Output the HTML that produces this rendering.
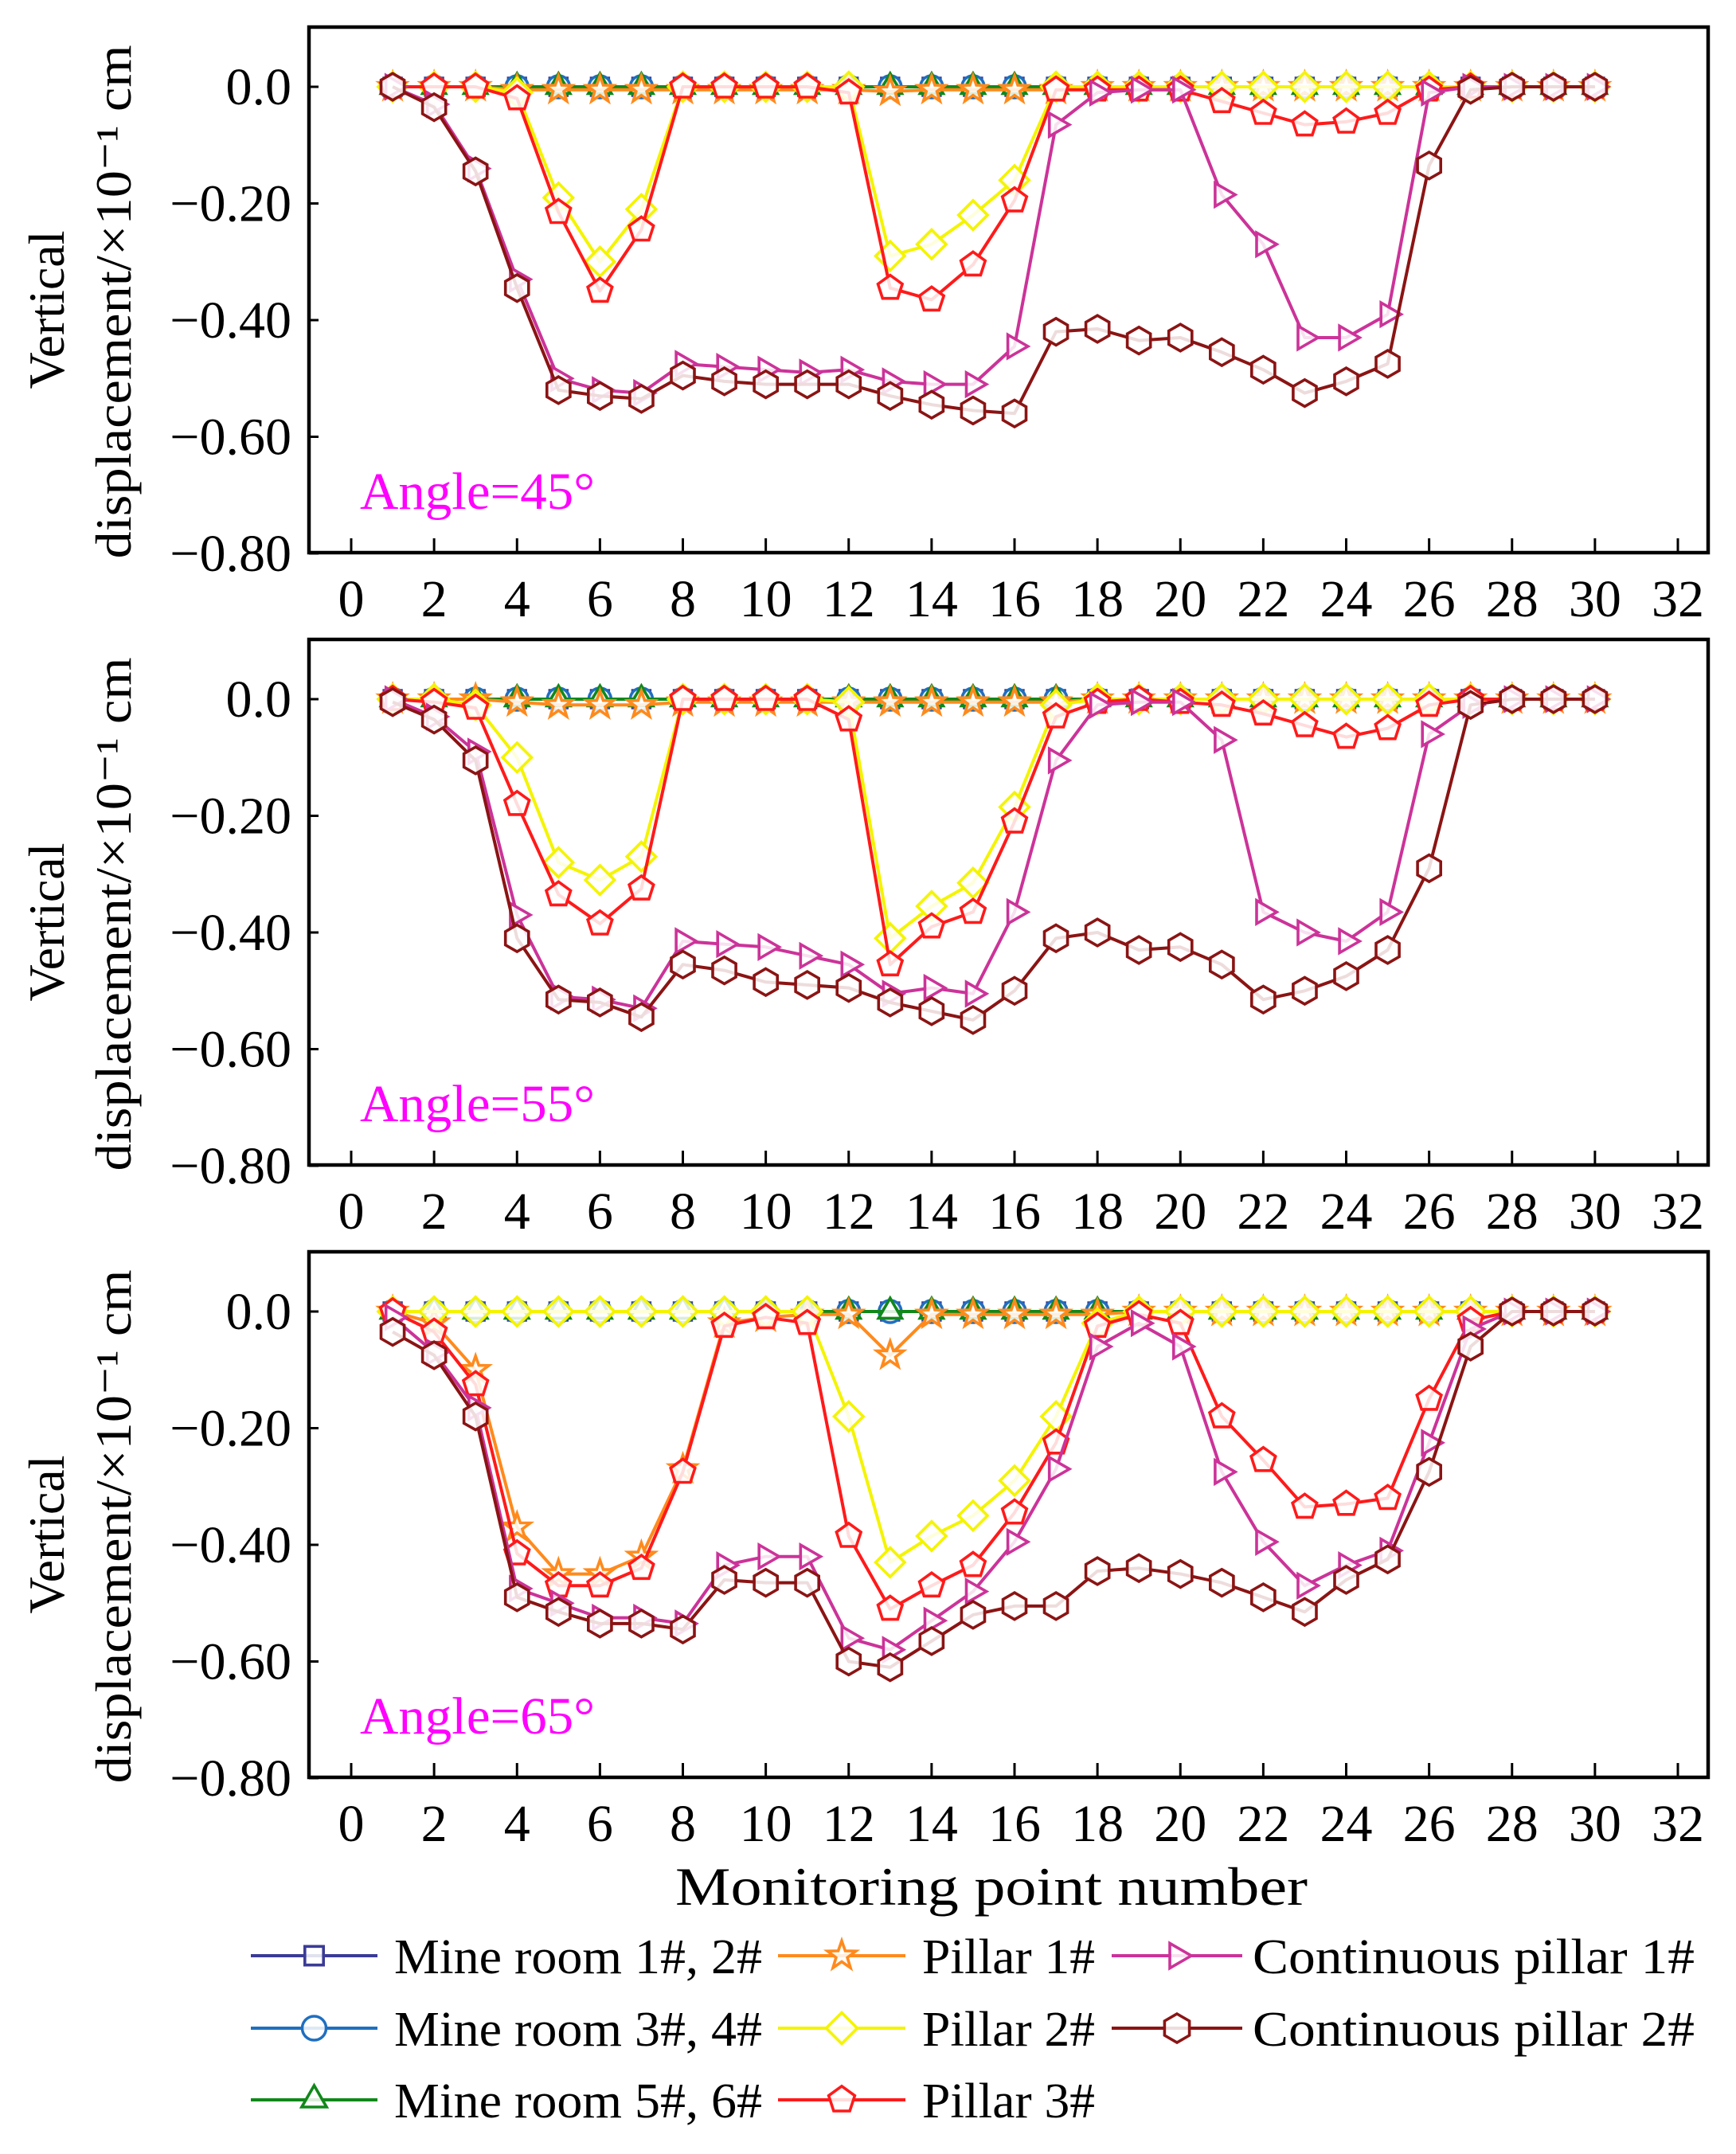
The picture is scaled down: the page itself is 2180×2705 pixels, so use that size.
<!DOCTYPE html>
<html><head><meta charset="utf-8"><style>
html,body{margin:0;padding:0;background:#fff;}
svg{display:block;font-family:"Liberation Serif",serif;}
</style></head><body>
<svg id="chart" width="2180" height="2705" viewBox="0 0 2180 2705" xmlns="http://www.w3.org/2000/svg"></svg>
<script>
const xTicks=[0,2,4,6,8,10,12,14,16,18,20,22,24,26,28,30,32];
const yTicks=[0,-0.2,-0.4,-0.6,-0.8];
const yTickLabels=["0.0","\u22120.20","\u22120.40","\u22120.60","\u22120.80"];
const points=[1,2,3,4,5,6,7,8,9,10,11,12,13,14,15,16,17,18,19,20,21,22,23,24,25,26,27,28,29,30];
const angles=["Angle=45\u00b0","Angle=55\u00b0","Angle=65\u00b0"];
const zeros=[0,0,0,0,0,0,0,0,0,0,0,0,0,0,0,0,0,0,0,0,0,0,0,0,0,0,0,0,0,0];
// Panel 1 (45°)
const p1Pillar1=[0,0,0,-0.005,-0.005,-0.005,-0.005,-0.005,-0.005,-0.005,-0.005,-0.005,-0.008,-0.005,-0.005,-0.005,-0.005,0,0,0,0,0,0,0,0,0,0,0,0,0];
const p1Pillar2=[0,0,0,-0.01,-0.19,-0.30,-0.21,0,0,0,0,0,-0.29,-0.27,-0.22,-0.16,0,0,0,0,0,0,0,0,0,0,0,0,0,0];
const p1Pillar3=[0,0,0,-0.02,-0.215,-0.35,-0.245,0,0,0,0,-0.01,-0.345,-0.365,-0.305,-0.195,-0.005,-0.005,-0.005,-0.005,-0.025,-0.045,-0.065,-0.06,-0.045,-0.005,0,0,0,0];
const p1Cont1=[0,-0.03,-0.14,-0.33,-0.50,-0.52,-0.525,-0.475,-0.48,-0.485,-0.49,-0.485,-0.505,-0.51,-0.51,-0.445,-0.065,-0.01,-0.005,-0.005,-0.185,-0.27,-0.43,-0.43,-0.39,-0.01,0,0,0,0];
const p1Cont2=[0,-0.035,-0.145,-0.345,-0.52,-0.53,-0.535,-0.495,-0.505,-0.51,-0.51,-0.51,-0.53,-0.545,-0.555,-0.56,-0.42,-0.415,-0.435,-0.43,-0.455,-0.485,-0.525,-0.505,-0.475,-0.135,-0.005,0,0,0];
// Panel 2 (55°)
const p2Pillar1=[0,0,0,-0.005,-0.01,-0.01,-0.01,-0.005,-0.005,-0.005,-0.005,-0.005,-0.005,-0.005,-0.005,-0.005,-0.005,0,0,0,0,0,0,0,0,0,0,0,0,0];
const p2Pillar2=[0,0,-0.01,-0.10,-0.28,-0.31,-0.27,0,0,0,0,-0.005,-0.41,-0.355,-0.315,-0.185,-0.01,0,0,0,0,0,0,0,0,0,0,0,0,0];
const p2Pillar3=[0,-0.005,-0.015,-0.18,-0.335,-0.385,-0.325,0,0,0,0,-0.035,-0.455,-0.39,-0.365,-0.21,-0.03,-0.005,0,-0.005,-0.01,-0.025,-0.045,-0.065,-0.05,-0.01,0,0,0,0];
const p2Cont1=[0,-0.03,-0.09,-0.37,-0.51,-0.515,-0.53,-0.415,-0.42,-0.425,-0.44,-0.455,-0.505,-0.495,-0.505,-0.365,-0.105,-0.01,-0.005,-0.005,-0.07,-0.365,-0.40,-0.415,-0.365,-0.06,-0.01,0,0,0];
const p2Cont2=[-0.005,-0.035,-0.105,-0.41,-0.515,-0.52,-0.545,-0.455,-0.465,-0.485,-0.49,-0.495,-0.52,-0.535,-0.55,-0.50,-0.41,-0.40,-0.43,-0.425,-0.455,-0.515,-0.50,-0.475,-0.43,-0.29,-0.01,0,0,0];
// Panel 3 (65°)
const p3Pillar1=[0,-0.02,-0.10,-0.37,-0.45,-0.45,-0.42,-0.27,-0.02,-0.01,-0.005,-0.005,-0.075,-0.005,-0.005,-0.005,-0.005,-0.005,0,0,0,0,0,0,0,0,0,0,0,0];
const p3Pillar2=[0,0,0,0,0,0,0,0,0,0,0,-0.18,-0.43,-0.385,-0.35,-0.29,-0.18,-0.02,0,0,0,0,0,0,0,0,0,0,0,0];
const p3Pillar3=[0,-0.035,-0.125,-0.415,-0.47,-0.47,-0.44,-0.275,-0.025,-0.01,-0.02,-0.385,-0.51,-0.47,-0.435,-0.345,-0.225,-0.025,-0.005,-0.02,-0.18,-0.255,-0.335,-0.33,-0.32,-0.15,-0.015,0,0,0];
const p3Cont1=[-0.01,-0.07,-0.165,-0.475,-0.50,-0.525,-0.525,-0.535,-0.435,-0.42,-0.42,-0.56,-0.58,-0.53,-0.48,-0.395,-0.27,-0.06,-0.02,-0.06,-0.275,-0.395,-0.47,-0.435,-0.41,-0.225,-0.03,0,0,0];
const p3Cont2=[-0.035,-0.075,-0.18,-0.49,-0.515,-0.535,-0.535,-0.545,-0.46,-0.465,-0.465,-0.60,-0.61,-0.565,-0.52,-0.505,-0.505,-0.445,-0.44,-0.45,-0.465,-0.49,-0.515,-0.46,-0.425,-0.275,-0.06,0,0,0];

const seriesNames=["Mine room 1#, 2#","Mine room 3#, 4#","Mine room 5#, 6#","Pillar 1#","Pillar 2#","Pillar 3#","Continuous pillar 1#","Continuous pillar 2#"];
const seriesColors=["#3b3b96","#1f6fc0","#11881a","#ff8a1c","#f4f400","#ff1a1a","#cc3399","#8b1414"];
const seriesMarkers=["square","circle","triangle","star","diamond","pentagon","tri-right","hexagon"];
const panelData=[
 [zeros,zeros,zeros,p1Pillar1,p1Pillar2,p1Pillar3,p1Cont1,p1Cont2],
 [zeros,zeros,zeros,p2Pillar1,p2Pillar2,p2Pillar3,p2Cont1,p2Cont2],
 [zeros,zeros,zeros,p3Pillar1,p3Pillar2,p3Pillar3,p3Cont1,p3Cont2]
];

const NS="http://www.w3.org/2000/svg";
const svg=document.getElementById('chart');
function mk(tag,attrs,parent){const e=document.createElementNS(NS,tag);for(const k in attrs)e.setAttribute(k,attrs[k]);(parent||svg).appendChild(e);return e;}
const L=388,R=2145,X0=441,X32=2107;
const panelTops=[34,803,1572];
const plotH=660, zeroOff=75, unitPx=586/0.8;
function xs(v){return X0+(X32-X0)*v/32;}
function markerPath(type,cx,cy,s){
  let pts=[];
  const poly=(n,r,rot)=>{for(let i=0;i<n;i++){const a=rot+i*2*Math.PI/n;pts.push([cx+r*Math.cos(a),cy+r*Math.sin(a)]);}};
  if(type==='square')poly(4,s*1.1,Math.PI/4);
  else if(type==='circle')return null;
  else if(type==='triangle')poly(3,s*1.2,-Math.PI/2);
  else if(type==='diamond')poly(4,s*1.3,0);
  else if(type==='pentagon')poly(5,s*1.15,-Math.PI/2);
  else if(type==='hexagon')poly(6,s*1.2,-Math.PI/2);
  else if(type==='tri-right')poly(3,s*1.2,0);
  else if(type==='star'){for(let i=0;i<10;i++){const r=i%2?s*0.5:s*1.25;const a=-Math.PI/2+i*Math.PI/5;pts.push([cx+r*Math.cos(a),cy+r*Math.sin(a)]);}}
  return 'M'+pts.map(p=>p[0].toFixed(1)+','+p[1].toFixed(1)).join('L')+'Z';
}
function drawMarker(g,type,cx,cy,s,color){
  const d=markerPath(type,cx,cy,s);
  let m;
  if(d===null) m=mk('circle',{cx:cx,cy:cy,r:s,fill:'#fff','fill-opacity':'0.85',stroke:color,'stroke-width':3.5},g);
  else m=mk('path',{d:d,fill:'#fff','fill-opacity':'0.85',stroke:color,'stroke-width':3.6},g);
  
  
}

panelTops.forEach((T,pi)=>{
  const B=T+plotH, Y0=T+zeroOff;
  const yv=v=>Y0+(-v)*unitPx;
  const g=mk('g',{});
  
  
  yTicks.forEach((t,i)=>{
    const y=yv(t);
    const tk=mk('line',{x1:L,x2:L+12,y1:y,y2:y,stroke:'#000','stroke-width':3},g);
    
    
    const tx=mk('text',{x:366,y:y+22,'text-anchor':'end','font-size':66,fill:'#000'},g);
    tx.textContent=yTickLabels[i];
    
    
  });
  xTicks.forEach(t=>{
    const x=xs(t);
    const tk=mk('line',{x1:x,x2:x,y1:B,y2:B-18,stroke:'#000','stroke-width':3},g);
    
    
    const tx=mk('text',{x:x,y:B+80,'text-anchor':'middle','font-size':66,fill:'#000'},g);
    tx.textContent=t;
    
    
  });
  panelData[pi].forEach((arr,si)=>{
    const sg=mk('g',{},g);
    
    
    const d=arr.map((v,i)=>(i?'L':'M')+xs(points[i]).toFixed(1)+','+yv(v).toFixed(1)).join('');
    const ln=mk('path',{d:d,fill:'none',stroke:seriesColors[si],'stroke-width':4,'stroke-linejoin':'round'},sg);
    
    
    arr.forEach((v,i)=>drawMarker(sg,seriesMarkers[si],xs(points[i]),yv(v),14,seriesColors[si]));
  });
  const box=mk('rect',{x:L,y:T,width:R-L,height:plotH,fill:'none',stroke:'#000','stroke-width':4.5},g);
  
  
  const an=mk('text',{x:452,y:T+605,'font-size':66,fill:'#ff00ff',textLength:295,lengthAdjust:'spacingAndGlyphs'},g);
  an.textContent=angles[pi];
  
  
  const cy=T+plotH/2+20;
  const t1=mk('text',{x:0,y:0,'font-size':64,fill:'#000','text-anchor':'middle',transform:'translate(80,'+(cy+5)+') rotate(-90)'},g);
  t1.textContent='Vertical';
  
  
  const t2=mk('text',{x:0,y:0,'font-size':64,fill:'#000','text-anchor':'middle',textLength:645,lengthAdjust:'spacingAndGlyphs',transform:'translate(164,'+(cy-5)+') rotate(-90)'},g);
  t2.textContent='displacement/\u00d710\u207b\u00b9 cm';
  
  
});
const xt=mk('text',{x:1245,y:2392,'text-anchor':'middle','font-size':68,fill:'#000',textLength:794,lengthAdjust:'spacingAndGlyphs'});
xt.textContent='Monitoring point number';


const legCols=[[315,474,495,462],[977,1137,1158,217],[1396,1560,1573,555]];
const legRows=[2456,2547,2637];
const legOrder=[[0,0,0],[1,0,1],[2,0,2],[3,1,0],[4,1,1],[5,1,2],[6,2,0],[7,2,1]];
legOrder.forEach(o=>{
  const si=o[0],c=legCols[o[1]],y=legRows[o[2]];
  const lg=mk('g',{});
  
  
  mk('line',{x1:c[0],x2:c[1],y1:y,y2:y,stroke:seriesColors[si],'stroke-width':4},lg);
  drawMarker(lg,seriesMarkers[si],(c[0]+c[1])/2,y,15,seriesColors[si]);
  const t=mk('text',{x:c[2],y:y+22,'font-size':62,fill:'#000',textLength:c[3],lengthAdjust:'spacingAndGlyphs'},lg);
  t.textContent=seriesNames[si];
});
</script>
</body></html>
